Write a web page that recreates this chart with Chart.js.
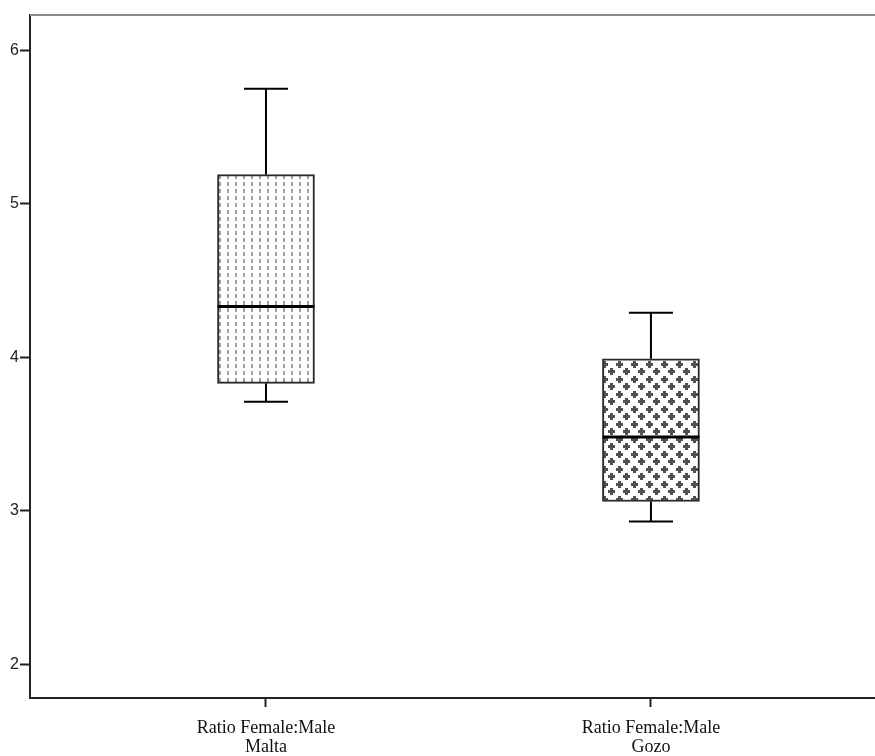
<!DOCTYPE html>
<html>
<head>
<meta charset="utf-8">
<script src="https://cdn.jsdelivr.net/npm/chart.js@4/dist/chart.umd.min.js"></script>
<style>
  html, body { margin: 0; padding: 0; background: #fff; }
  #wrap { width: 875px; height: 756px; }
</style>
</head>
<body>
<div id="wrap"><canvas id="boxChart" width="875" height="756"></canvas></div>
<script>
// Donnees
const categories = ['Malta', 'Gozo'];
const axisTitle = 'Ratio Female:Male';
const whiskerLow = [3.71, 2.93];
const q1 = [3.83, 3.06];
const median = [4.33, 3.48];
const q3 = [5.19, 3.99];
const whiskerHigh = [5.75, 4.29];
const yTicks = [2, 3, 4, 5, 6];

// Motifs de remplissage des boites
function dottedPattern() {
    const c = document.createElement('canvas');
    c.width = 8; c.height = 7;
    const x = c.getContext('2d');
    x.fillStyle = '#fff';
    x.fillRect(0, 0, 8, 7);
    x.fillStyle = '#a0a0a0';
    x.fillRect(3, 0, 2, 4);
    return x.createPattern(c, 'repeat');
}

function crossPattern() {
    const c = document.createElement('canvas');
    c.width = 15; c.height = 15;
    const x = c.getContext('2d');
    x.fillStyle = '#fff';
    x.fillRect(0, 0, 15, 15);
    x.fillStyle = '#505050';
    [[4, 4], [11, 11]].forEach(function(p) {
        x.fillRect(p[0] - 3, p[1] - 1, 7, 3);
        x.fillRect(p[0] - 1, p[1] - 3, 3, 7);
    });
    return x.createPattern(c, 'repeat');
}

// Moustaches, medianes et bord superieur
const boxPlugin = {
    id: 'boxExtras',
    afterDatasetsDraw(chart) {
        const ctx = chart.ctx;
        const xs = chart.scales.x;
        const ys = chart.scales.y;
        const meta = chart.getDatasetMeta(0);
        ctx.save();
        ctx.strokeStyle = '#000';
        categories.forEach(function(c, i) {
            const cx = xs.getPixelForValue(i);
            const w = meta.data[i].width;
            const cap = 44;
            ctx.lineWidth = 2;
            ctx.beginPath();
            ctx.moveTo(cx, ys.getPixelForValue(q3[i]));
            ctx.lineTo(cx, ys.getPixelForValue(whiskerHigh[i]));
            ctx.moveTo(cx, ys.getPixelForValue(q1[i]));
            ctx.lineTo(cx, ys.getPixelForValue(whiskerLow[i]));
            ctx.moveTo(cx - cap / 2, ys.getPixelForValue(whiskerHigh[i]));
            ctx.lineTo(cx + cap / 2, ys.getPixelForValue(whiskerHigh[i]));
            ctx.moveTo(cx - cap / 2, ys.getPixelForValue(whiskerLow[i]));
            ctx.lineTo(cx + cap / 2, ys.getPixelForValue(whiskerLow[i]));
            ctx.stroke();
            ctx.lineWidth = 3;
            ctx.beginPath();
            ctx.moveTo(cx - w / 2, ys.getPixelForValue(median[i]));
            ctx.lineTo(cx + w / 2, ys.getPixelForValue(median[i]));
            ctx.stroke();
        });
        const area = chart.chartArea;
        ctx.strokeStyle = '#8c8c8c';
        ctx.lineWidth = 2;
        ctx.beginPath();
        ctx.moveTo(area.left, area.top);
        ctx.lineTo(area.right, area.top);
        ctx.stroke();
        ctx.restore();
    }
};

const canvas = document.getElementById('boxChart');
const ctx = canvas.getContext('2d');

const chart = new Chart(ctx, {
    type: 'bar',
    data: {
        datasets: [{
            data: categories.map(function(c, i) { return { x: i, y: [q1[i], q3[i]] }; }),
            backgroundColor: [dottedPattern(), crossPattern()],
            borderColor: '#2a2a2a',
            borderWidth: 2,
            borderSkipped: false,
            barThickness: 97,
            grouped: false
        }]
    },
    options: {
        responsive: false,
        animation: false,
        layout: { padding: { top: 15, right: 0, left: 0, bottom: 0 } },
        plugins: {
            legend: { display: false },
            tooltip: { enabled: false }
        },
        scales: {
            x: {
                type: 'linear',
                offset: false,
                min: -0.613,
                max: 1.582,
                afterBuildTicks: function(scale) {
                    scale.ticks = categories.map(function(c, i) { return { value: i }; });
                },
                afterFit: function(scale) { scale.height = 58; },
                ticks: {
                    autoSkip: false,
                    maxRotation: 0,
                    padding: 11,
                    color: '#111',
                    font: { family: '"Liberation Serif", "Times New Roman", serif', size: 18, lineHeight: 1.1 },
                    callback: function(v) { return [axisTitle, categories[v]]; }
                },
                grid: {
                    offset: false,
                    drawOnChartArea: false,
                    drawTicks: true,
                    tickLength: 9,
                    tickWidth: 2,
                    tickColor: '#222'
                },
                border: { color: '#222', width: 2 }
            },
            y: {
                min: 1.78,
                max: 6.23,
                afterBuildTicks: function(scale) {
                    scale.ticks = yTicks.map(function(v) { return { value: v }; });
                },
                afterFit: function(scale) { scale.width = 30; },
                ticks: {
                    padding: 1,
                    color: '#222',
                    font: { family: '"Liberation Sans", Arial, sans-serif', size: 16 }
                },
                grid: {
                    drawOnChartArea: false,
                    drawTicks: true,
                    tickLength: 10,
                    tickWidth: 2,
                    tickColor: '#222'
                },
                border: { color: '#222', width: 2 }
            }
        }
    },
    plugins: [boxPlugin]
});
</script>
</body>
</html>
